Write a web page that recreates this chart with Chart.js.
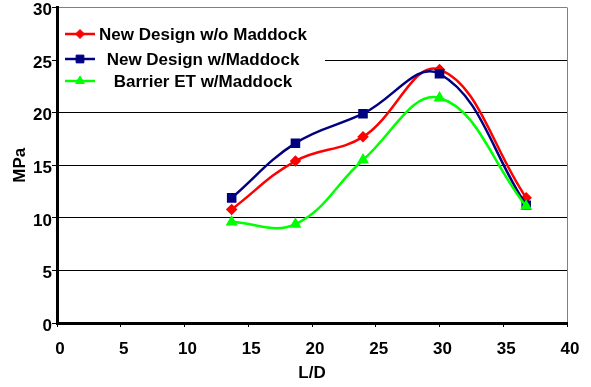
<!DOCTYPE html>
<html>
<head>
<meta charset="utf-8">
<script src="https://cdn.jsdelivr.net/npm/chart.js@4/dist/chart.umd.min.js"></script>
<style>
  html, body { margin: 0; padding: 0; background: #fff; }
  #wrap { width: 591px; height: 387px; }
</style>
</head>
<body>
<div id="wrap"><canvas id="c" width="591" height="387"></canvas></div>
<script>
// L/D positions shared by all three series
const ldValues = [13.7, 18.7, 24.0, 30.0, 36.8];

// Pressure (MPa) for each design
const seriesNames = ['New Design w/o Maddock', 'New Design w/Maddock', 'Barrier ET w/Maddock'];
const noMaddock   = [10.8, 15.4, 17.7, 24.1, 11.9];
const withMaddock = [11.9, 17.1, 19.9, 23.7, 11.2];
const barrierET   = [9.6, 9.4, 15.5, 21.4, 11.1];

// Axis ranges and tick step
const xRange = [0, 40];
const yRange = [0, 30];
const tickStep = 5;

const FONT = '"Liberation Sans", Arial, sans-serif';

function points(values) {
  return ldValues.map((x, i) => ({ x: x, y: values[i] }));
}

// Legend drawn inside the plot, on a white panel in the upper-left corner
const insideLegend = {
  id: 'insideLegend',
  beforeDatasetsDraw(chart) {
    const { ctx, chartArea } = chart;
    ctx.save();
    ctx.fillStyle = '#ffffff';
    ctx.fillRect(chartArea.left + 2, 20, 266, 74);
    const rows = [34, 59, 81];
    chart.data.datasets.forEach((ds, i) => {
      const y = rows[i];
      ctx.strokeStyle = ds.borderColor;
      ctx.lineWidth = ds.borderWidth;
      ctx.beginPath();
      ctx.moveTo(65, y);
      ctx.lineTo(95, y);
      ctx.stroke();
      ctx.fillStyle = ds.pointBackgroundColor;
      ctx.strokeStyle = ds.pointBorderColor;
      ctx.lineWidth = 1;
      Chart.helpers.drawPoint(ctx, { pointStyle: ds.pointStyle, radius: ds.pointRadius + 0.5, rotation: 0, borderWidth: 1 }, 80, y);
      ctx.fillStyle = '#000';
      ctx.font = 'bold 17px ' + FONT;
      ctx.textAlign = 'center';
      ctx.textBaseline = 'middle';
      ctx.fillText(ds.label, 203, y + 1);
    });
    ctx.restore();
  }
};

const ctx = document.getElementById('c').getContext('2d');
new Chart(ctx, {
  type: 'line',
  data: {
    datasets: [
      {
        label: seriesNames[0],
        data: points(noMaddock),
        borderColor: '#ff0000',
        backgroundColor: '#ff0000',
        pointBackgroundColor: '#ff0000',
        pointBorderColor: '#ff0000',
        pointStyle: 'rectRot',
        pointRadius: 4,
        borderWidth: 2.5,
        tension: 0.4,
        order: 3
      },
      {
        label: seriesNames[1],
        data: points(withMaddock),
        borderColor: '#000080',
        backgroundColor: '#000080',
        pointBackgroundColor: '#000080',
        pointBorderColor: '#000080',
        pointStyle: 'rect',
        pointRadius: 5,
        borderWidth: 2.5,
        tension: 0.4,
        order: 2
      },
      {
        label: seriesNames[2],
        data: points(barrierET),
        borderColor: '#00ff00',
        backgroundColor: '#00ff00',
        pointBackgroundColor: '#00ff00',
        pointBorderColor: '#00ff00',
        pointStyle: 'triangle',
        pointRadius: 4.5,
        borderWidth: 2.5,
        tension: 0.4,
        order: 1
      }
    ]
  },
  options: {
    responsive: false,
    devicePixelRatio: 1,
    animation: false,
    layout: { padding: { top: 6, right: 24, left: 0, bottom: 0 } },
    plugins: {
      legend: { display: false },
      tooltip: { enabled: false }
    },
    scales: {
      x: {
        type: 'linear',
        min: xRange[0],
        max: xRange[1],
        afterFit(scale) {
          scale.height = 64;
          scale.paddingLeft = 0;
          scale.paddingRight = 0;
        },
        ticks: {
          stepSize: tickStep,
          color: '#000',
          padding: 12,
          labelOffset: 3,
          maxRotation: 0,
          font: { family: FONT, size: 17, weight: 'bold' }
        },
        grid: {
          color: c => (c.tick && c.tick.value === xRange[1]) ? '#808080' : 'rgba(0,0,0,0)',
          tickColor: '#000',
          tickLength: 4,
          lineWidth: 1
        },
        border: { color: '#000', width: 3 },
        title: {
          display: true,
          text: 'L/D',
          color: '#000',
          font: { family: FONT, size: 17, weight: 'bold' },
          padding: { top: 0, bottom: 3 }
        }
      },
      y: {
        type: 'linear',
        min: yRange[0],
        max: yRange[1],
        afterFit(scale) {
          scale.width = 57;
          scale.paddingTop = 0;
          scale.paddingBottom = 0;
        },
        ticks: {
          stepSize: tickStep,
          color: '#000',
          padding: 0,
          labelOffset: 3,
          font: { family: FONT, size: 17, weight: 'bold' }
        },
        grid: {
          color: c => {
            const v = c.tick ? c.tick.value : null;
            if (v === yRange[0]) return 'rgba(0,0,0,0)';
            if (v === yRange[1]) return '#808080';
            return '#000';
          },
          tickColor: '#000',
          tickLength: 5,
          lineWidth: 1
        },
        border: { color: '#000', width: 3 },
        title: {
          display: true,
          text: 'MPa',
          color: '#000',
          font: { family: FONT, size: 17, weight: 'bold' },
          padding: { top: 10, bottom: 0 }
        }
      }
    }
  },
  plugins: [insideLegend]
});
</script>
</body>
</html>
